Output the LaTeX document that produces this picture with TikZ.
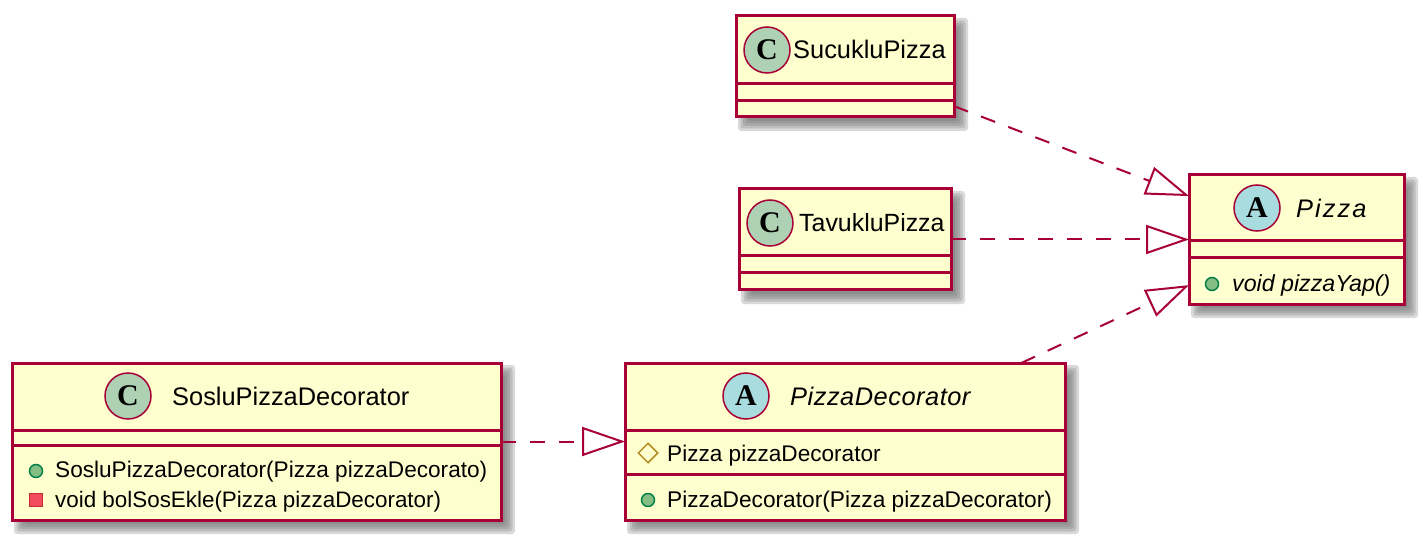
\documentclass[tikz,border=0pt]{standalone}
\usepackage{fontspec}
\setmainfont{Liberation Sans}
\newfontfamily\spotfont{Liberation Serif}
\usetikzlibrary{arrows.meta,shapes.geometric}
\definecolor{umlline}{HTML}{A80036}
\definecolor{umlfill}{HTML}{FEFECE}
\definecolor{spotc}{HTML}{ADD1B2}
\definecolor{spota}{HTML}{A9DCDF}
\definecolor{iconpubf}{HTML}{84BE84}
\definecolor{iconpubd}{HTML}{038048}
\definecolor{iconprif}{HTML}{F24D5C}
\definecolor{iconprid}{HTML}{C82930}
\definecolor{iconpro}{HTML}{B38D22}
\definecolor{umlshadow}{HTML}{6E6E6E}
\tikzset{
  umlbox/.style={draw=umlline,fill=umlfill,line width=3pt,rectangle,inner sep=0pt,outer sep=0pt},
  umlsep/.style={draw=umlline,line width=3pt},
  umlrel/.style={draw=umlline,line width=2pt,dash pattern=on 15pt off 14pt,
    -{Triangle[open,length=43pt,width=29pt,line width=2pt,fill=white]}},
  spotcircle/.style={circle,draw=umlline,line width=1.5pt,minimum size=46pt,inner sep=0pt},
  spotletter/.style={font=\spotfont\bfseries\fontsize{30}{30}\selectfont,inner sep=0pt},
  classtitle/.style={anchor=base west,inner sep=0pt,font=\fontsize{25.4}{30}\selectfont},
  abstracttitle/.style={classtitle,font=\itshape\fontsize{25.4}{30}\selectfont\addfontfeature{LetterSpace=2}},
  member/.style={anchor=base west,inner sep=0pt,font=\fontsize{22.6}{27}\selectfont},
  abstractmember/.style={member,font=\itshape\fontsize{23.2}{27}\selectfont},
  pubicon/.style={circle,draw=iconpubd,fill=iconpubf,line width=1.5pt,minimum size=13pt,inner sep=0pt},
  priicon/.style={rectangle,draw=iconprid,fill=iconprif,line width=1.5pt,minimum size=13pt,inner sep=0pt},
  proicon/.style={diamond,draw=iconpro,line width=1.5pt,minimum size=20pt,inner sep=0pt,aspect=1},
}
% name, x1, y1, x2, y2, sep1, sep2
\newcommand{\umlclass}[7]{%
  \pgfmathsetmacro{\bw}{#4-#2}\pgfmathsetmacro{\bh}{#5-#3}%
  \foreach \d in {-4,-1.5,1,3.5,6}{%
    \fill[umlshadow,opacity=0.26,rounded corners=3pt]
      ({#2+8-\d},{#3+8-\d}) rectangle ({#4+8+\d},{#5+8+\d});}%
  \node[umlbox,minimum width=\bw pt,minimum height=\bh pt] (#1) at ({(#2+#4)/2},{(#3+#5)/2}) {};%
  \draw[umlsep] (#2,#6) -- (#4,#6);
  \draw[umlsep] (#2,#7) -- (#4,#7);
}
\begin{document}
\begin{tikzpicture}[x=1pt,y=-1pt]
\useasboundingbox (0,0) rectangle (1425,540);

\umlclass{suc}{736}{16}{954}{117}{84}{101}
\umlclass{tav}{739}{189}{951}{290}{256}{273}
\umlclass{piz}{1189}{175}{1404}{304}{241}{258}
\umlclass{dec}{625}{363}{1065}{520}{430}{474}
\umlclass{sos}{12}{363}{501}{520}{430}{445}

\node[spotcircle,fill=spotc] (sucspot) at (767,50) {};
\node[spotletter] (sucC) at (767,50) {C};
\node[classtitle] (suctitle) at (793,59) {SucukluPizza};

\node[spotcircle,fill=spotc] (tavspot) at (770,223) {};
\node[spotletter] (tavC) at (770,223) {C};
\node[classtitle,font=\fontsize{24.9}{30}\selectfont] (tavtitle) at (799,232) {TavukluPizza};

\node[spotcircle,fill=spota] (pizspot) at (1257,208) {};
\node[spotletter] (pizA) at (1257,208) {A};
\node[abstracttitle,font=\itshape\fontsize{25.4}{30}\selectfont\addfontfeature{LetterSpace=8}] (piztitle) at (1296,218) {Pizza};
\node[pubicon] (pizi1) at (1212,284) {};
\node[abstractmember] (pizm1) at (1232,291) {void pizzaYap()};

\node[spotcircle,fill=spota] (decspot) at (746,396) {};
\node[spotletter] (decA) at (746,396) {A};
\node[abstracttitle] (dectitle) at (790,405) {PizzaDecorator};
\node[proicon] (deci1) at (648,453) {};
\node[member] (decm1) at (667,461) {Pizza pizzaDecorator};
\node[pubicon] (deci2) at (648,500) {};
\node[member,font=\fontsize{22.7}{27}\selectfont] (decm2) at (667,507) {PizzaDecorator(Pizza pizzaDecorator)};

\node[spotcircle,fill=spotc] (sosspot) at (128,396) {};
\node[spotletter] (sosC) at (128,396) {C};
\node[classtitle] (sostitle) at (172,405) {SosluPizzaDecorator};
\node[pubicon] (sosi1) at (36,471) {};
\node[member] (sosm1) at (55,477) {SosluPizzaDecorator(Pizza pizzaDecorato)};
\node[priicon] (sosi2) at (36,500) {};
\node[member,font=\fontsize{22.4}{27}\selectfont] (sosm2) at (55,507) {void bolSosEkle(Pizza pizzaDecorator)};

\draw[umlrel] (suc.-20.8) -- (piz.158.9);
\draw[umlrel] (tav.east) -- (piz.west);
\draw[umlrel] (dec.24) -- (piz.203.8);
\draw[umlrel] (sos.east) -- (dec.west);
\end{tikzpicture}
\end{document}
